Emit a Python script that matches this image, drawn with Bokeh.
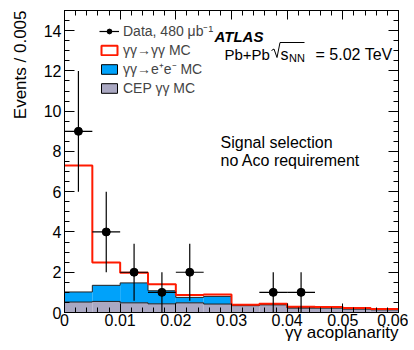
import math
from bokeh.plotting import figure
from bokeh.models import (ColumnDataSource, Legend, LegendItem, Label, LinearAxis, Title,
                          SingleIntervalTicker, CustomJSTickFormatter, Range1d)
from bokeh.embed import file_html
from bokeh.resources import INLINE

# ---------------- data ----------------
bin_edges = [0.0, 0.005, 0.01, 0.015, 0.02, 0.025, 0.03, 0.035, 0.04, 0.045, 0.05, 0.055, 0.06]
cep_mc = [0.52, 0.55, 0.48, 0.43, 0.48, 0.42, 0.34, 0.38, 0.22, 0.22, 0.17, 0.13]
ee_mc = [0.50, 0.80, 0.99, 0.65, 0.27, 0.38, 0.02, 0.02, 0.02, 0.02, 0.02, 0.02]
signal_mc = [6.28, 1.13, 0.51, 0.32, 0.12, 0.10, 0.03, 0.04, 0.04, 0.03, 0.03, 0.03]
data_counts = [9, 4, 2, 1, 2, 0, 0, 1, 1, 0, 0, 0]
x_range = (0.0, 0.06)
y_range = (0.0, 15.0)

FONT = "Liberation Sans"
GRAY = "#aaa8c2"
BLUE = "#00a2fa"
RED = "#ff1a00"

# frame position in picture pixels (used only to place annotations)
FL, FR, FT, FB = 62.0, 396.0, 10.0, 312.0


def px_x(X):
    return x_range[0] + (X - FL) / (FR - FL) * (x_range[1] - x_range[0])


def px_y(Y):
    return y_range[0] + (FB - Y) / (FB - FT) * (y_range[1] - y_range[0])


p = figure(frame_width=334, frame_height=302, x_range=Range1d(*x_range), y_range=Range1d(*y_range),
           output_backend="svg", toolbar_location=None,
           min_border_left=62, min_border_right=10, min_border_top=10, min_border_bottom=36)
p.xgrid.visible = False
p.ygrid.visible = False
p.outline_line_color = "black"

xa = p.below[0]
ya = p.left[0]


def style_axis(ax, ticker, tin, mtin, labels=True):
    ax.ticker = ticker
    ax.major_tick_in = tin
    ax.major_tick_out = 0
    ax.minor_tick_in = mtin
    ax.minor_tick_out = 0
    ax.axis_line_color = "black"
    ax.major_label_text_font = FONT
    ax.major_label_text_font_size = "16px"
    ax.major_label_text_color = "black"
    if not labels:
        ax.formatter = CustomJSTickFormatter(code="return ''")
        ax.major_label_text_font_size = "0px"
        ax.major_label_standoff = 0


style_axis(xa, SingleIntervalTicker(interval=0.01, num_minor_ticks=5), 9, 5)
xa.formatter = CustomJSTickFormatter(code="return tick == 0 ? '0' : tick.toFixed(2)")
xa.major_label_standoff = 1
style_axis(ya, SingleIntervalTicker(interval=2, num_minor_ticks=4), 10, 5)
ya.major_label_standoff = 3

top_ax = LinearAxis()
style_axis(top_ax, SingleIntervalTicker(interval=0.01, num_minor_ticks=5), 9, 5, labels=False)
p.add_layout(top_ax, "above")
right_ax = LinearAxis()
style_axis(right_ax, SingleIntervalTicker(interval=2, num_minor_ticks=4), 10, 5, labels=False)
p.add_layout(right_ax, "right")

# axis titles, aligned to the frame ends as in the original
p.add_layout(Title(text="γγ acoplanarity", align="right", vertical_align="top", standoff=-11,
                   text_font=FONT, text_font_size="17px", text_font_style="normal",
                   text_color="black"), "below")
p.add_layout(Title(text="Events / 0.005", align="right", vertical_align="middle", standoff=19,
                   text_font=FONT, text_font_size="17px", text_font_style="normal",
                   text_color="black"), "left")

# ---------------- stacked histograms ----------------
lefts = bin_edges[:-1]
rights = bin_edges[1:]
blue_top = [c + e for c, e in zip(cep_mc, ee_mc)]
total = [b + s for b, s in zip(blue_top, signal_mc)]

p.quad(left=lefts, right=rights, bottom=0, top=cep_mc, fill_color=GRAY, line_color=None)
p.quad(left=lefts, right=rights, bottom=cep_mc, top=blue_top, fill_color=BLUE, line_color=None)
p.step(x=bin_edges, y=cep_mc + [cep_mc[-1]], mode="after", line_color="#222222", line_width=1)
p.step(x=bin_edges, y=blue_top + [blue_top[-1]], mode="after", line_color="#222222", line_width=1)
p.step(x=bin_edges, y=total + [total[-1]], mode="after", line_color=RED, line_width=2)

# ---------------- data points ----------------
cx, cy, el, eh, bl, br = [], [], [], [], [], []
for a, b, n in zip(lefts, rights, data_counts):
    if n > 0:
        cx.append((a + b) / 2)
        cy.append(n)
        el.append(n - math.sqrt(n))
        eh.append(n + math.sqrt(n))
        bl.append(a)
        br.append(b)
src = ColumnDataSource(dict(x=cx, y=cy, lo=el, hi=eh, l=bl, r=br))
p.segment(x0="x", y0="lo", x1="x", y1="hi", source=src, line_color="black", line_width=1.2)
hseg = p.segment(x0="l", y0="y", x1="r", y1="y", source=src, line_color="black", line_width=1.2)
pts = p.scatter(x="x", y="y", source=src, size=8, marker="circle", fill_color="black", line_color="black")

# legend-only renderers (hidden), one bin each
r_sig = p.quad(left=lefts[:1], right=rights[:1], bottom=blue_top[:1], top=total[:1],
               fill_color="white", line_color=RED, line_width=2, visible=False)
r_ee = p.quad(left=lefts[:1], right=rights[:1], bottom=cep_mc[:1], top=blue_top[:1],
              fill_color=BLUE, line_color="black", line_width=1, visible=False)
r_cep = p.quad(left=lefts[:1], right=rights[:1], bottom=0, top=cep_mc[:1],
               fill_color=GRAY, line_color="black", line_width=1, visible=False)

legend = Legend(items=[
    LegendItem(label="Data, 480 μb⁻¹", renderers=[hseg, pts]),
    LegendItem(label="γγ→γγ MC", renderers=[r_sig]),
    LegendItem(label="γγ→e⁺e⁻ MC", renderers=[r_ee]),
    LegendItem(label="CEP γγ MC", renderers=[r_cep]),
], location=(35, 216), glyph_width=20, glyph_height=12, label_height=17, spacing=1,
    padding=0, margin=0, label_standoff=4, border_line_alpha=0, background_fill_alpha=0,
    label_text_font=FONT, label_text_font_size="14px")
p.add_layout(legend, "center")


def label(X, Y, text, size="16px", style="normal", align="left"):
    p.add_layout(Label(x=px_x(X), y=px_y(Y), text=text, text_font=FONT, text_font_size=size,
                       text_font_style=style, text_align=align, text_baseline="alphabetic",
                       text_color="black"))


label(212, 35.5, "ATLAS", size="15px", style="bold italic")
label(222, 54, "Pb+Pb", size="15px")
label(278, 54, "s")
label(286.5, 57.5, "NN", size="11px")
label(390, 54, "= 5.02 TeV", align="right")
# square-root sign drawn as a thin polyline
rad_x = [269, 271.5, 274.5, 277.5, 302]
rad_y = [50, 48.5, 57, 42, 42]
p.line(x=[px_x(v) for v in rad_x], y=[px_y(v) for v in rad_y], line_color="black", line_width=1)

label(218, 141.5, "Signal selection")
label(218, 160, "no Aco requirement")

open("out.html", "w").write(file_html(p, INLINE))
